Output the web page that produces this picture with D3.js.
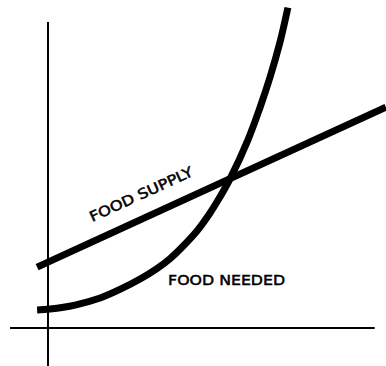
<!DOCTYPE html>
<html>
<head>
<meta charset="utf-8">
<script src="https://cdn.jsdelivr.net/npm/d3@7"></script>
<style>
  html, body { margin: 0; padding: 0; background: #fff; }
  svg { display: block; }
  .label { font-family: "DejaVu Sans", sans-serif; font-size: 14px; fill: #000; stroke: #000; stroke-width: 0.5px; }
</style>
</head>
<body>
<svg id="chart" width="386" height="366"></svg>
<script>
// Time runs along x, amount of food along y (arbitrary units).
const supplyTime   = [-3.3, 102.4];
const supplyAmount = [19.9, 72.2];

const neededTime   = [-3.3, 0.6, 8.2, 15.8, 21.8, 27.9, 33.0, 37.0, 40.6, 45.2, 49.1, 52.1, 55.2, 60.6, 64.2, 67.3, 70.3, 72.7];
const neededAmount = [5.9, 6.2, 7.5, 9.8, 12.6, 16.0, 19.4, 22.7, 26.4, 31.8, 37.6, 42.8, 48.8, 61.5, 71.9, 82.0, 93.4, 104.7];

// Reach of the two hand-drawn axes, in data units.
const xAxisReach = [-11.5, 99];
const yAxisReach = [-12.5, 100];

const labels = ["FOOD SUPPLY", "FOOD NEEDED"];

const svg = d3.select("#chart");
const x = d3.scaleLinear().domain([0, 100]).range([48, 378]);
const y = d3.scaleLinear().domain([0, 100]).range([328, 22]);

// Axes: plain crossing lines through the origin.
svg.append("line")
  .attr("x1", x(0)).attr("x2", x(0))
  .attr("y1", y(yAxisReach[0])).attr("y2", y(yAxisReach[1]))
  .attr("stroke", "#000").attr("stroke-width", 2);
svg.append("line")
  .attr("x1", x(xAxisReach[0])).attr("x2", x(xAxisReach[1]))
  .attr("y1", y(0)).attr("y2", y(0))
  .attr("stroke", "#000").attr("stroke-width", 2);

const supply = supplyTime.map((t, i) => [t, supplyAmount[i]]);
const needed = neededTime.map((t, i) => [t, neededAmount[i]]);

const straight = d3.line().x(d => x(d[0])).y(d => y(d[1]));
const smooth = d3.line().x(d => x(d[0])).y(d => y(d[1])).curve(d3.curveCatmullRom.alpha(0.5));

svg.append("path").datum(supply)
  .attr("d", straight)
  .attr("fill", "none").attr("stroke", "#000").attr("stroke-width", 7);

svg.append("path").datum(needed)
  .attr("d", smooth)
  .attr("fill", "none").attr("stroke", "#000").attr("stroke-width", 7);

// Supply label sits above its line, following the slope.
const angle = Math.atan2(y(supplyAmount[1]) - y(supplyAmount[0]), x(supplyTime[1]) - x(supplyTime[0])) * 180 / Math.PI;
const sx = x(13.4), sy = y(34.6);
svg.append("text").attr("class", "label")
  .attr("x", sx).attr("y", sy)
  .attr("transform", `rotate(${angle},${sx},${sy})`)
  .attr("textLength", 112).attr("lengthAdjust", "spacingAndGlyphs")
  .text(labels[0]);

svg.append("text").attr("class", "label")
  .attr("x", x(36.4)).attr("y", y(14.1))
  .attr("textLength", 117).attr("lengthAdjust", "spacingAndGlyphs")
  .text(labels[1]);
</script>
</body>
</html>
